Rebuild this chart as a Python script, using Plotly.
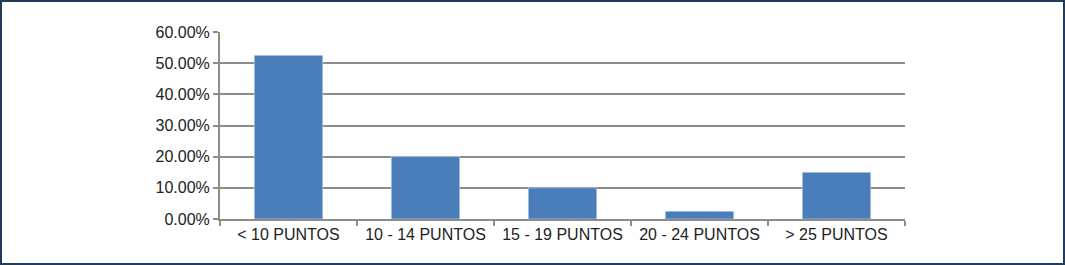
import plotly.graph_objects as go

categories = ["< 10 PUNTOS", "10 - 14 PUNTOS", "15 - 19 PUNTOS", "20 - 24 PUNTOS", "> 25 PUNTOS"]
values = [0.525, 0.20, 0.10, 0.025, 0.15]
y_ticks = [0, 0.1, 0.2, 0.3, 0.4, 0.5, 0.6]
y_tick_labels = ["0.00%", "10.00%", "20.00%", "30.00%", "40.00%", "50.00%", "60.00%"]

W, H = 1065, 265
ml, mr, mt, mb = 220, 160, 32, 46
pw, ph = W - ml - mr, H - mt - mb

fig = go.Figure(go.Bar(x=categories, y=values, marker_color="#4a7ebb", width=0.5))

fig.update_layout(
    width=W, height=H,
    margin=dict(l=ml, r=mr, t=mt, b=mb),
    paper_bgcolor="white", plot_bgcolor="white",
    font=dict(family="Liberation Sans, Arial, sans-serif", size=16, color="#222222"),
    showlegend=False,
    bargap=0.5,
)
fig.update_xaxes(
    showline=True, linecolor="#8c8c8c", linewidth=2,
    ticks="outside", tickson="boundaries", ticklen=5, tickcolor="#8c8c8c", tickwidth=2,
    showgrid=False,
)
fig.update_yaxes(
    range=[0, 0.6], tickvals=y_ticks, ticktext=y_tick_labels,
    showline=True, linecolor="#8c8c8c", linewidth=2,
    ticks="outside", ticklen=5, tickcolor="#8c8c8c", tickwidth=2,
    showgrid=True, gridcolor="#8c8c8c", gridwidth=2,
    zeroline=False,
)
fig.add_shape(
    type="rect", xref="paper", yref="paper",
    x0=(-ml + 1) / pw, x1=(W - ml - 1) / pw,
    y0=(-mb + 1) / ph, y1=(H - mb - 1) / ph,
    line=dict(color="#1f3b5a", width=2), fillcolor="rgba(0,0,0,0)",
)
fig.write_html(
    "out.html",
    config={"displayModeBar": False},
    post_script="document.body.style.margin='0';document.body.style.overflow='hidden';",
)
